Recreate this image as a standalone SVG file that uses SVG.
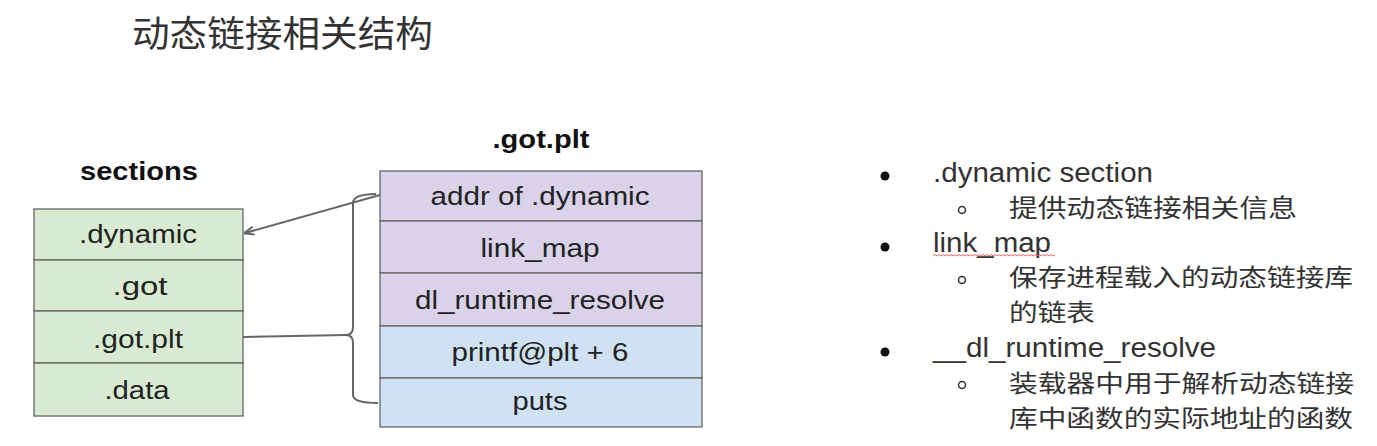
<svg xmlns="http://www.w3.org/2000/svg" width="1377" height="446" viewBox="0 0 1377 446">
<style>
.t{font-family:"Liberation Sans",Arial,sans-serif;fill:#222;text-anchor:middle}
.cell{font-size:26px}
.hd{font-size:26px;font-weight:bold;fill:#111}
.cn{font-family:"Noto Sans CJK SC","Noto Sans",sans-serif;fill:#333}
.en{font-family:"Liberation Sans",Arial,sans-serif;fill:#333;font-size:27px}
.g{fill:#d9ead3;stroke:#666;stroke-width:1.3}
.p{fill:#d9d2e9;stroke:#666;stroke-width:1.3}
.b{fill:#cfe2f3;stroke:#666;stroke-width:1.3}
.con{fill:none;stroke:#666;stroke-width:2}
</style>
<defs>
<marker id="ah" viewBox="0 0 10 10" refX="9" refY="5" markerWidth="5" markerHeight="5" orient="auto-start-reverse">
<path d="M0,1 L10,5 L0,9" fill="none" stroke="#666" stroke-width="2"/>
</marker>
</defs>
<rect width="1377" height="446" fill="#fff"/>
<text class="cn" x="132" y="47" font-size="36" fill="#222" textLength="301" lengthAdjust="spacingAndGlyphs">动态链接相关结构</text>

<g id="sections">
<text class="t hd" x="139" y="180" textLength="118" lengthAdjust="spacingAndGlyphs">sections</text>
<rect class="g" x="34" y="209" width="209" height="51"/>
<rect class="g" x="34" y="260" width="209" height="51"/>
<rect class="g" x="34" y="311" width="209" height="52"/>
<rect class="g" x="34" y="363" width="209" height="53"/>
<text class="t cell" x="138" y="243" textLength="118" lengthAdjust="spacingAndGlyphs">.dynamic</text>
<text class="t cell" x="140" y="295" textLength="55" lengthAdjust="spacingAndGlyphs">.got</text>
<text class="t cell" x="138" y="348" textLength="90" lengthAdjust="spacingAndGlyphs">.got.plt</text>
<text class="t cell" x="137" y="399" textLength="65" lengthAdjust="spacingAndGlyphs">.data</text>
</g>

<g id="gotplt">
<text class="t hd" x="541" y="148" textLength="97" lengthAdjust="spacingAndGlyphs">.got.plt</text>
<rect class="p" x="380" y="171" width="322" height="50"/>
<rect class="p" x="380" y="221" width="322" height="52"/>
<rect class="p" x="380" y="273" width="322" height="53"/>
<rect class="b" x="380" y="326" width="322" height="52"/>
<rect class="b" x="380" y="378" width="322" height="49"/>
<text class="t cell" x="540" y="205" textLength="219" lengthAdjust="spacingAndGlyphs">addr of .dynamic</text>
<text class="t cell" x="540" y="257" textLength="119" lengthAdjust="spacingAndGlyphs">link_map</text>
<text class="t cell" x="540" y="309" textLength="250" lengthAdjust="spacingAndGlyphs">dl_runtime_resolve</text>
<text class="t cell" x="540" y="361" textLength="177" lengthAdjust="spacingAndGlyphs">printf@plt + 6</text>
<text class="t cell" x="540" y="410" textLength="55" lengthAdjust="spacingAndGlyphs">puts</text>
</g>

<g id="connectors">
<path class="con" d="M380,195 L245,233" marker-end="url(#ah)"/>
<path class="con" d="M376,194 Q353,194 353,203 L353,327 Q353,335 346,335 Q353,335 353,343 L353,395 Q353,403 378,403"/>
<path class="con" d="M243,337 L346,335"/>
</g>

<g id="notes">
<circle cx="885" cy="176" r="4.5" fill="#111"/>
<circle cx="885" cy="247" r="4.5" fill="#111"/>
<circle cx="885" cy="352" r="4.5" fill="#111"/>
<circle cx="962" cy="210" r="3.5" fill="none" stroke="#333" stroke-width="1.5"/>
<circle cx="962" cy="280" r="3.5" fill="none" stroke="#333" stroke-width="1.5"/>
<circle cx="962" cy="385" r="3.5" fill="none" stroke="#333" stroke-width="1.5"/>
<text class="en" x="933" y="182" textLength="220" lengthAdjust="spacingAndGlyphs">.dynamic section</text>
<text class="en" x="933" y="252" textLength="118" lengthAdjust="spacingAndGlyphs">link_map</text>
<path d="M933,256 l2,-1.5 l2,1.5 l2,-1.5 l2,1.5 l2,-1.5 l2,1.5 l2,-1.5 l2,1.5 l2,-1.5 l2,1.5 l2,-1.5 l2,1.5 l2,-1.5 l2,1.5 l2,-1.5 l2,1.5 l2,-1.5 l2,1.5 l2,-1.5 l2,1.5 l2,-1.5 l2,1.5 l2,-1.5 l2,1.5 l2,-1.5 l2,1.5 l2,-1.5 l2,1.5 l2,-1.5 l2,1.5 l2,-1.5 l2,1.5 l2,-1.5 l2,1.5 l2,-1.5 l2,1.5 l2,-1.5 l2,1.5 l2,-1.5 l2,1.5 l2,-1.5 l2,1.5 l2,-1.5 l2,1.5 l2,-1.5 l2,1.5 l2,-1.5 l2,1.5 l2,-1.5 l2,1.5 l2,-1.5 l2,1.5 l2,-1.5 l2,1.5 l2,-1.5 l2,1.5 l2,-1.5 l2,1.5 l2,-1.5 l2,1.5 l2,-1.5" fill="none" stroke="#e06666" stroke-width="1"/>
<text class="en" x="933" y="357" textLength="283" lengthAdjust="spacingAndGlyphs">__dl_runtime_resolve</text>
<text class="cn" x="1009" y="217" font-size="25" textLength="288" lengthAdjust="spacingAndGlyphs">提供动态链接相关信息</text>
<text class="cn" x="1009" y="286" font-size="24" textLength="344" lengthAdjust="spacingAndGlyphs">保存进程载入的动态链接库</text>
<text class="cn" x="1009" y="321" font-size="24" textLength="86" lengthAdjust="spacingAndGlyphs">的链表</text>
<text class="cn" x="1009" y="392" font-size="24" textLength="345" lengthAdjust="spacingAndGlyphs">装载器中用于解析动态链接</text>
<text class="cn" x="1009" y="427" font-size="24" textLength="344" lengthAdjust="spacingAndGlyphs">库中函数的实际地址的函数</text>
</g>
</svg>
